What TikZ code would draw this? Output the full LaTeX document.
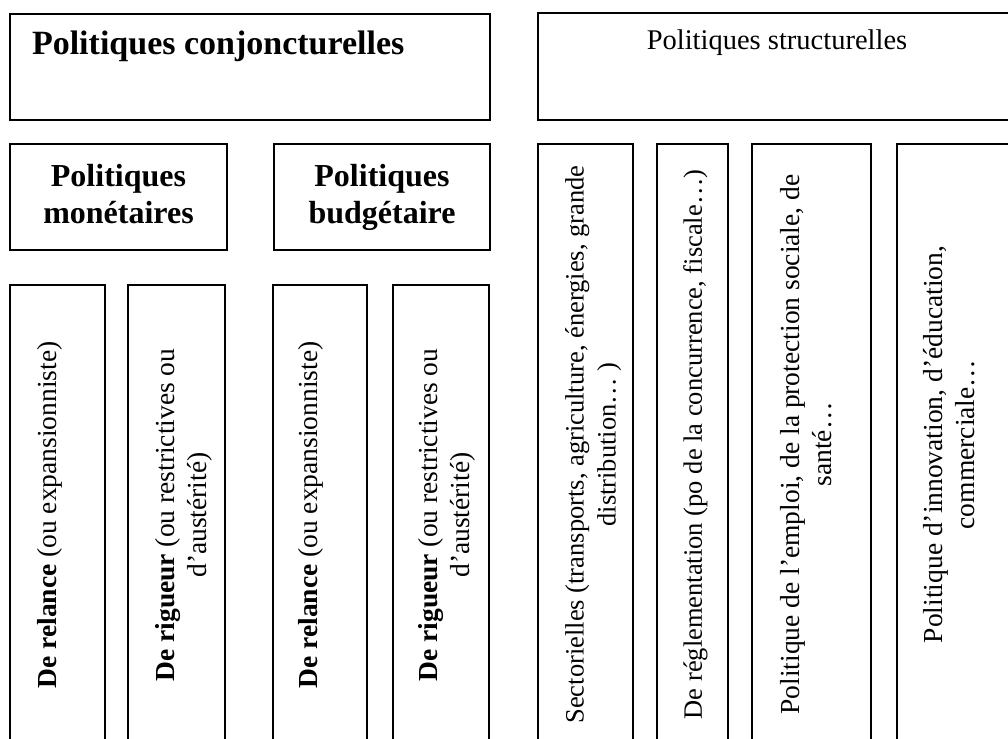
\documentclass[tikz,border=0pt]{standalone}
\usepackage{fontspec}
\setmainfont{Liberation Serif}
\usetikzlibrary{positioning}

\begin{document}
\begin{tikzpicture}[
        x=1pt, y=-1pt,
        box/.style={rectangle, draw=black, line width=1.5pt, inner sep=0pt, outer sep=0pt, anchor=north west},
        head/.style={box, align=center, font=\bfseries\fontsize{32}{37}\selectfont},
        col/.style={box, minimum height=#1},
        col/.default=460pt,
        coltxt/.style={rotate=90, anchor=north, inner sep=0pt, align=center, font=\fontsize{27.5}{32}\selectfont}
    ]
    \useasboundingbox (0,0) rectangle (1008,738);

    % the two families
    \node (conj) [box, inner xsep=22pt, text height=41pt, text depth=65pt, font=\bfseries\fontsize{34}{40}\selectfont] at (10,14) {\makebox[436pt][l]{Politiques conjoncturelles}};
    \node (struc) [box, minimum width=478pt, text height=37pt, text depth=70pt, font=\fontsize{28.5}{33}\selectfont] at (538,13) {Politiques structurelles};

    \node (mon) [head, minimum width=217pt, minimum height=106pt, below=24pt of conj.south west, anchor=north west] {Politiques\\monétaires\vphantom{g}};
    \node (bud) [head, minimum width=216pt, minimum height=106pt, right=47pt of mon.north east, anchor=north west] {Politiques\\budgétaire};

    % conjoncturelles columns
    \node (relm) [col, minimum width=95pt, below=35pt of mon.south west, anchor=north west] {};
    \node (rigm) [col, minimum width=97pt, right=23pt of relm.north east, anchor=north west] {};
    \node (relb) [col, minimum width=94pt, right=48pt of rigm.north east, anchor=north west] {};
    \node (rigb) [col, minimum width=96pt, right=26pt of relb.north east, anchor=north west] {};

    \node (relm-t) [coltxt] at ([xshift=27pt]relm.west) {\textbf{De relance} (ou expansionniste)};
    \node (rigm-t) [coltxt] at ([xshift=27pt]rigm.west) {\textbf{De rigueur} (ou restrictives ou\\d’austérité)};
    \node (relb-t) [coltxt] at ([xshift=25pt]relb.west) {\textbf{De relance} (ou expansionniste)};
    \node (rigb-t) [coltxt] at ([xshift=25pt]rigb.west) {\textbf{De rigueur} (ou restrictives ou\\d’austérité)};

    % structurelles columns
    \node (sect) [col=601pt, minimum width=95pt, below=24pt of struc.south west, anchor=north west] {};
    \node (regl) [col=601pt, minimum width=71pt, right=24pt of sect.north east, anchor=north west] {};
    \node (empl) [col=601pt, minimum width=119pt, right=24pt of regl.north east, anchor=north west] {};
    \node (inno) [col=601pt, minimum width=119pt, right=26pt of empl.north east, anchor=north west] {};

    \node (sect-t) [coltxt, font=\fontsize{26.5}{32}\selectfont] at ([xshift=27pt]sect.west) {Sectorielles (transports, agriculture, énergies, grande\\distribution… )};
    \node (regl-t) [coltxt, font=\fontsize{26.5}{32}\selectfont] at ([xshift=26pt]regl.west) {De réglementation (po de la concurrence, fiscale…)};
    \node (empl-t) [coltxt] at ([xshift=28pt]empl.west) {Politique de l’emploi, de la protection sociale, de\\santé…};
    \node (inno-t) [coltxt] at ([xshift=26pt]inno.west) {Politique d’innovation, d’éducation,\\commerciale…};
\end{tikzpicture}
\end{document}
